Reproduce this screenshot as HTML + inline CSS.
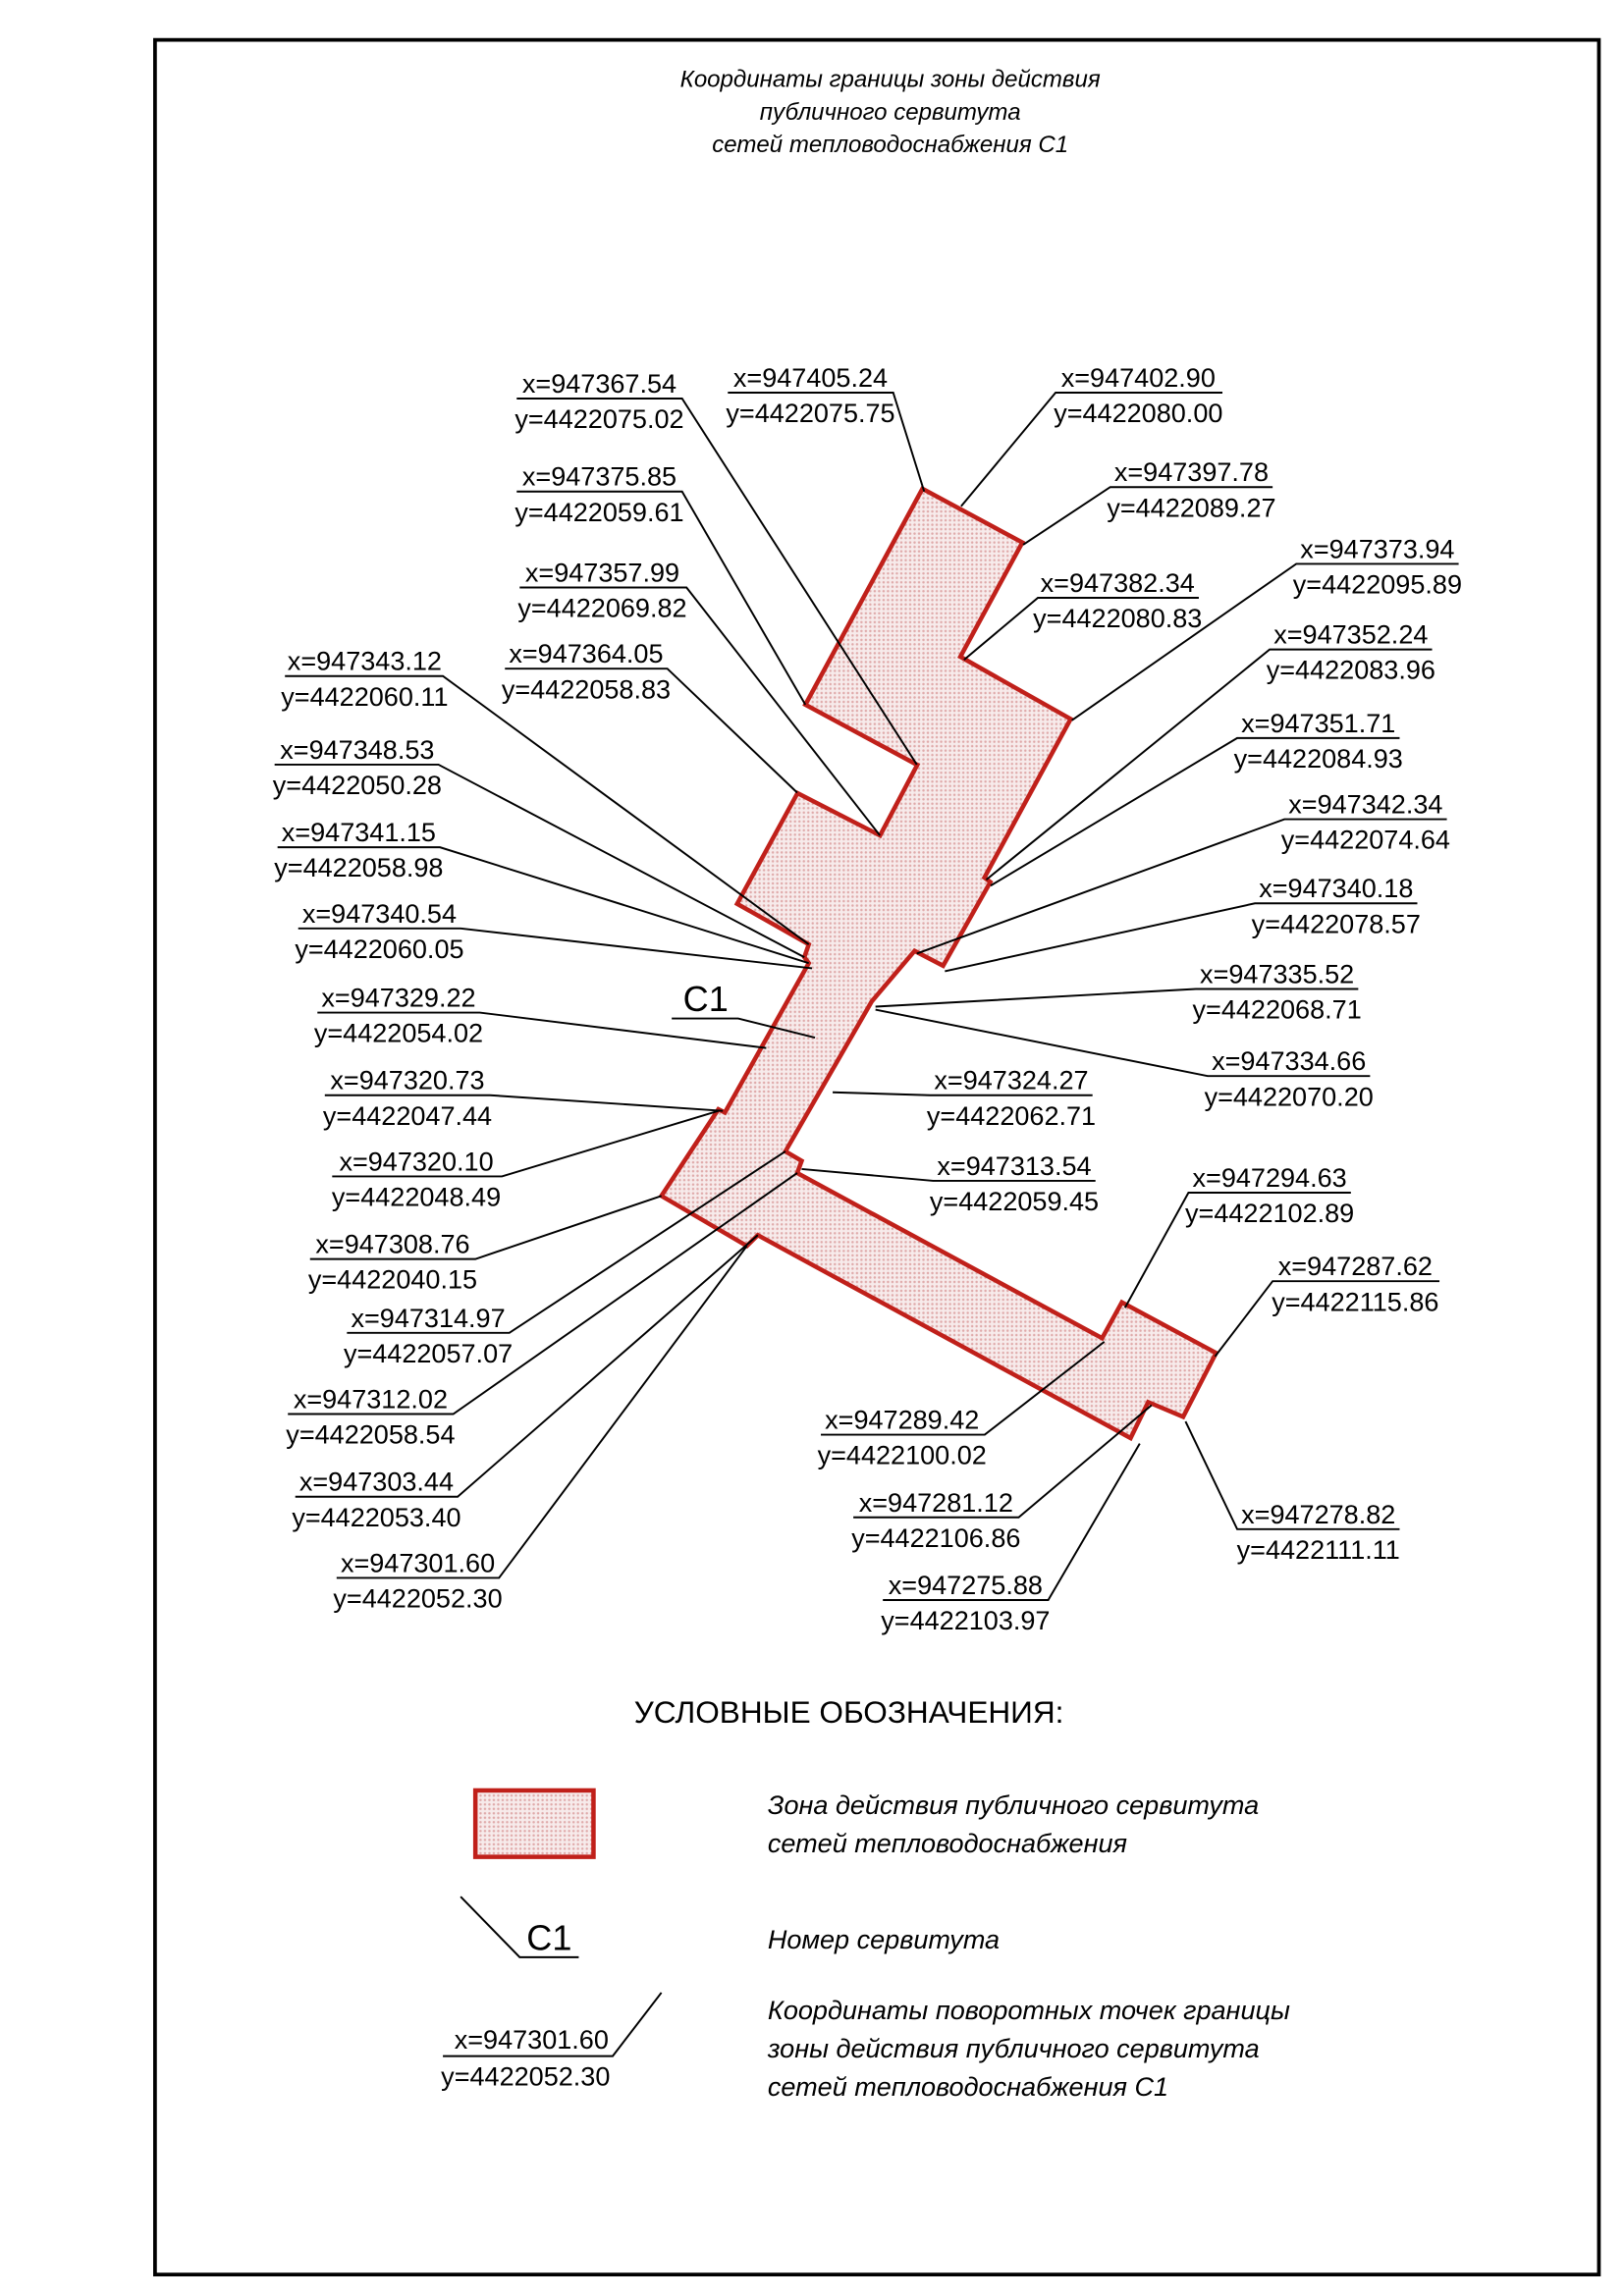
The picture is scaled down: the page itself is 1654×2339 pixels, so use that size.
<!DOCTYPE html>
<html><head><meta charset="utf-8"><style>
html,body{margin:0;padding:0;background:#fff}
svg{display:block}
.t{font-family:"Liberation Sans",sans-serif;font-size:18px;fill:#000;text-anchor:middle}
.g{font-family:"Liberation Sans",sans-serif;font-style:italic;fill:#000}
</style></head><body>
<svg width="1654" height="2339" viewBox="0 0 1100 1555.5" xmlns="http://www.w3.org/2000/svg">
<defs>
<pattern id="p" width="3" height="3" patternUnits="userSpaceOnUse">
<rect width="3" height="3" fill="#f7ebeb"/><circle cx="1.5" cy="1.5" r="0.8" fill="#dfa9a9"/>
</pattern>
</defs>
<rect x="105" y="27" width="978" height="1514" fill="none" stroke="#000" stroke-width="2.5"/>
<text class="g" x="603" y="59" font-size="16" text-anchor="middle">Координаты границы зоны действия</text>
<text class="g" x="603" y="81" font-size="16" text-anchor="middle">публичного сервитута</text>
<text class="g" x="603" y="103" font-size="16" text-anchor="middle">сетей тепловодоснабжения С1</text>

<polygon fill="url(#p)" stroke="#c0201a" stroke-width="3" stroke-linejoin="miter" points="624.8,331.1 692.5,367.5 650.5,444.9 725.2,487.1 666.8,594.5 670.8,597.6 638.8,654.3 619.5,644.2 590.5,678.4 532,780 543,786.5 540,794.7 746.5,906.6 759.9,882.3 823.7,916.6 801.4,959.9 777.7,949.9 765.8,974.3 513.3,836.8 505.9,844.1 448,810.2 486.6,751.5 491,753.7 547.8,652.5 544.8,648.5 547.8,639.8 499.3,612.3 540.2,537.3 596.1,566 621.3,518.2 545.5,477.4"/>

<g stroke="#000" stroke-width="1.3" fill="none">
<polyline points="350,270 462,270 621,518"/>
<polyline points="350,333 462,333 545.5,477.4"/>
<polyline points="352,398 465,398 596,566"/>
<polyline points="342,453 452,453 540,537"/>
<polyline points="193,458 300,458 547.8,639.8"/>
<polyline points="186,518 297,518 544.8,648.5"/>
<polyline points="188,574 298,574 547.8,652.5"/>
<polyline points="202,629 312,629 550,656"/>
<polyline points="455,690 500,690 552,703"/>
<polyline points="215,686 325,686 519,710"/>
<polyline points="220,742 332,742 489.6,752.6"/>
<polyline points="225,797 340,797 486.6,752.6"/>
<polyline points="210,853 322,853 448,810.2"/>
<polyline points="235,903 345,903 532,780"/>
<polyline points="195,958 307,958 540,794.7"/>
<polyline points="200,1014 310,1014 513.3,836.8"/>
<polyline points="228,1069 338,1069 505.9,844.1"/>
<polyline points="493,266 605,266 626,333"/>
<polyline points="828,266 715,266 651,343"/>
<polyline points="862,330 752,330 693,369"/>
<polyline points="812,405 703,405 653,447"/>
<polyline points="988,382 878,382 726,488"/>
<polyline points="970,440 860,440 668,596"/>
<polyline points="948,500 838,500 671,600"/>
<polyline points="980,555 870,555 621,646"/>
<polyline points="960,612 850,612 640,658"/>
<polyline points="920,670 810,670 593,682"/>
<polyline points="928,729 818,729 593,684"/>
<polyline points="740,742 630,742 564,740"/>
<polyline points="742,800 632,800 543,792"/>
<polyline points="915,808 805,808 762,886"/>
<polyline points="975,868 862,868 823,919"/>
<polyline points="556,972 667,972 748,909"/>
<polyline points="578,1028 690,1028 780,952"/>
<polyline points="598,1084 710,1084 772,978"/>
<polyline points="948,1036 838,1036 803,963"/>
</g>

<g class="t">
<text x="406" y="266">x=947367.54</text><text x="406" y="290">y=4422075.02</text>
<text x="406" y="329">x=947375.85</text><text x="406" y="353">y=4422059.61</text>
<text x="408" y="394">x=947357.99</text><text x="408" y="418">y=4422069.82</text>
<text x="397" y="449">x=947364.05</text><text x="397" y="473">y=4422058.83</text>
<text x="247" y="454">x=947343.12</text><text x="247" y="478">y=4422060.11</text>
<text x="242" y="514">x=947348.53</text><text x="242" y="538">y=4422050.28</text>
<text x="243" y="570">x=947341.15</text><text x="243" y="594">y=4422058.98</text>
<text x="257" y="625">x=947340.54</text><text x="257" y="649">y=4422060.05</text>
<text x="270" y="682">x=947329.22</text><text x="270" y="706">y=4422054.02</text>
<text x="276" y="738">x=947320.73</text><text x="276" y="762">y=4422047.44</text>
<text x="282" y="793">x=947320.10</text><text x="282" y="817">y=4422048.49</text>
<text x="266" y="849">x=947308.76</text><text x="266" y="873">y=4422040.15</text>
<text x="290" y="899">x=947314.97</text><text x="290" y="923">y=4422057.07</text>
<text x="251" y="954">x=947312.02</text><text x="251" y="978">y=4422058.54</text>
<text x="255" y="1010">x=947303.44</text><text x="255" y="1034">y=4422053.40</text>
<text x="283" y="1065">x=947301.60</text><text x="283" y="1089">y=4422052.30</text>
<text x="478" y="685" style="font-size:24px">C1</text>
<text x="549" y="262">x=947405.24</text><text x="549" y="286">y=4422075.75</text>
<text x="771" y="262">x=947402.90</text><text x="771" y="286">y=4422080.00</text>
<text x="807" y="326">x=947397.78</text><text x="807" y="350">y=4422089.27</text>
<text x="757" y="401">x=947382.34</text><text x="757" y="425">y=4422080.83</text>
<text x="933" y="378">x=947373.94</text><text x="933" y="402">y=4422095.89</text>
<text x="915" y="436">x=947352.24</text><text x="915" y="460">y=4422083.96</text>
<text x="893" y="496">x=947351.71</text><text x="893" y="520">y=4422084.93</text>
<text x="925" y="551">x=947342.34</text><text x="925" y="575">y=4422074.64</text>
<text x="905" y="608">x=947340.18</text><text x="905" y="632">y=4422078.57</text>
<text x="865" y="666">x=947335.52</text><text x="865" y="690">y=4422068.71</text>
<text x="873" y="725">x=947334.66</text><text x="873" y="749">y=4422070.20</text>
<text x="685" y="738">x=947324.27</text><text x="685" y="762">y=4422062.71</text>
<text x="687" y="796">x=947313.54</text><text x="687" y="820">y=4422059.45</text>
<text x="860" y="804">x=947294.63</text><text x="860" y="828">y=4422102.89</text>
<text x="918" y="864">x=947287.62</text><text x="918" y="888">y=4422115.86</text>
<text x="611" y="968">x=947289.42</text><text x="611" y="992">y=4422100.02</text>
<text x="634" y="1024">x=947281.12</text><text x="634" y="1048">y=4422106.86</text>
<text x="654" y="1080">x=947275.88</text><text x="654" y="1104">y=4422103.97</text>
<text x="893" y="1032">x=947278.82</text><text x="893" y="1056">y=4422111.11</text>
</g>

<text x="575" y="1167" style="font-family:'Liberation Sans',sans-serif;font-size:21px" text-anchor="middle">УСЛОВНЫЕ ОБОЗНАЧЕНИЯ:</text>
<rect x="322" y="1213" width="80" height="45" fill="url(#p)" stroke="#c0201a" stroke-width="3"/>
<text class="g" x="520" y="1229" font-size="18">Зона действия публичного сервитута</text>
<text class="g" x="520" y="1255" font-size="18">сетей тепловодоснабжения</text>
<polyline points="312,1285 352,1326 392,1326" fill="none" stroke="#000" stroke-width="1.3"/>
<text class="t" x="372" y="1321" style="font-size:24px">C1</text>
<text class="g" x="520" y="1320" font-size="18">Номер сервитута</text>
<polyline points="300,1393 415,1393 448,1350" fill="none" stroke="#000" stroke-width="1.3"/>
<text class="t" x="360" y="1388">x=947301.60</text>
<text class="t" x="356" y="1413">y=4422052.30</text>
<text class="g" x="520" y="1368" font-size="18">Координаты поворотных точек границы</text>
<text class="g" x="520" y="1394" font-size="18">зоны действия публичного сервитута</text>
<text class="g" x="520" y="1420" font-size="18">сетей тепловодоснабжения С1</text>
</svg>
</body></html>
